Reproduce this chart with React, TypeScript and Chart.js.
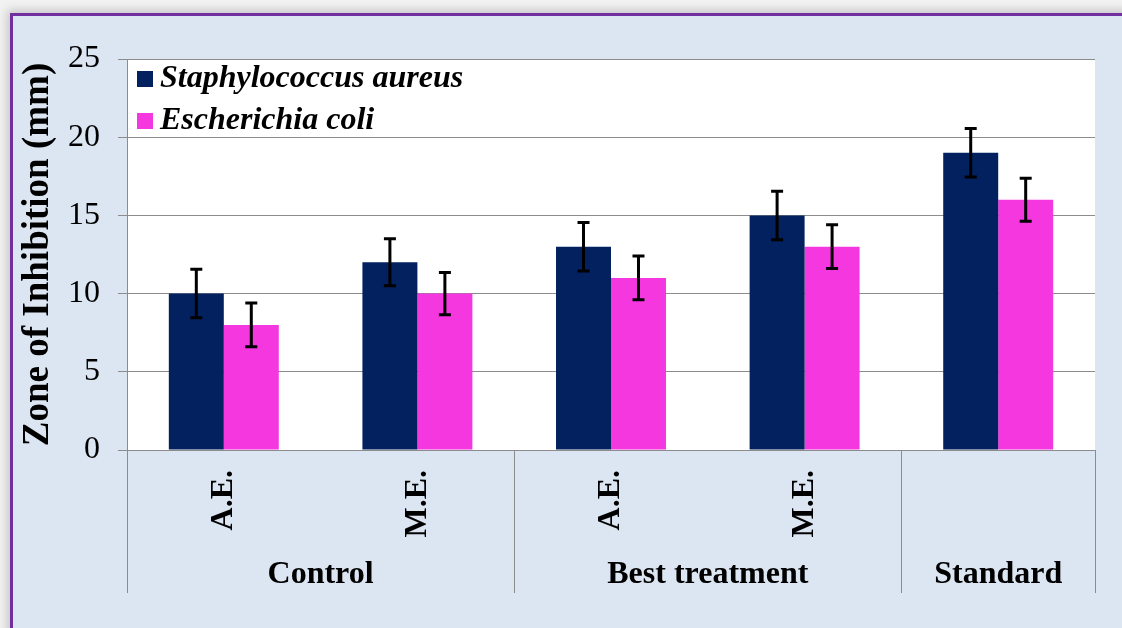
import React, { useEffect, useRef } from 'react';
import { Chart, registerables } from 'chart.js';

Chart.register(...registerables);

// ---- Data ----
const categories = ['A.E.', 'M.E.', 'A.E.', 'M.E.', ''];
const groupLabels = ['Control', 'Best treatment', 'Standard'];
const groupSizes = [2, 2, 1];
const seriesNames = ['Staphylococcus aureus', 'Escherichia coli'];
const saValues = [10, 12, 13, 15, 19];
const ecValues = [8, 10, 11, 13, 16];
const saErrors = [1.55, 1.5, 1.55, 1.55, 1.55];
const ecErrors = [1.4, 1.35, 1.4, 1.4, 1.38];
const yMin = 0;
const yMax = 25;
const yStep = 5;
const yTitle = 'Zone of Inhibition (mm)';

const NAVY = '#03205f';
const PINK = '#f537e0';
const GRID = '#8c8c8c';
const SERIF = "'Liberation Serif', 'Times New Roman', serif";

export default function App() {
  const ref = useRef<HTMLCanvasElement>(null);

  useEffect(() => {
    const canvas = ref.current;
    if (!canvas) return;

    const bgPlugin = {
      id: 'plotBg',
      beforeDraw(chart: any) {
        const { ctx, chartArea: a } = chart;
        ctx.save();
        ctx.fillStyle = '#ffffff';
        ctx.fillRect(a.left, a.top, a.right - a.left, a.bottom - a.top);
        ctx.restore();
      },
    };

    const errPlugin = {
      id: 'errBars',
      afterDatasetsDraw(chart: any) {
        const { ctx } = chart;
        const yScale = chart.scales.y;
        const errs = [saErrors, ecErrors];
        ctx.save();
        ctx.strokeStyle = '#000000';
        ctx.lineWidth = 3;
        chart.data.datasets.forEach((ds: any, di: number) => {
          const meta = chart.getDatasetMeta(di);
          meta.data.forEach((bar: any, i: number) => {
            const v = ds.data[i];
            const e = errs[di][i];
            const yt = yScale.getPixelForValue(v + e);
            const yb = yScale.getPixelForValue(v - e);
            const x = bar.x;
            ctx.beginPath();
            ctx.moveTo(x, yt);
            ctx.lineTo(x, yb);
            ctx.moveTo(x - 6, yt);
            ctx.lineTo(x + 6, yt);
            ctx.moveTo(x - 6, yb);
            ctx.lineTo(x + 6, yb);
            ctx.stroke();
          });
        });
        ctx.restore();
      },
    };

    const groupPlugin = {
      id: 'groups',
      afterDraw(chart: any) {
        const { ctx, chartArea: a } = chart;
        const xs = chart.scales.x;
        const n = categories.length;
        const half = (xs.getPixelForValue(1) - xs.getPixelForValue(0)) / 2;
        const bottomY = 593;
        ctx.save();
        ctx.strokeStyle = GRID;
        ctx.lineWidth = 1;
        // left axis line
        ctx.beginPath();
        ctx.moveTo(Math.round(a.left) + 0.5, a.top);
        ctx.lineTo(Math.round(a.left) + 0.5, bottomY);
        ctx.stroke();
        let idx = 0;
        ctx.fillStyle = '#000000';
        ctx.font = `bold 32px ${SERIF}`;
        ctx.textAlign = 'center';
        ctx.textBaseline = 'middle';
        groupLabels.forEach((g, gi) => {
          const start = idx;
          const end = idx + groupSizes[gi] - 1;
          const x0 = xs.getPixelForValue(start) - half;
          const x1 = xs.getPixelForValue(end) + half;
          ctx.beginPath();
          ctx.moveTo(Math.round(x1) + 0.5, a.bottom);
          ctx.lineTo(Math.round(x1) + 0.5, bottomY);
          ctx.stroke();
          ctx.fillText(g, (x0 + x1) / 2, 575);
          idx = end + 1;
        });
        void n;
        ctx.restore();
      },
    };

    const legendPlugin = {
      id: 'innerLegend',
      afterDraw(chart: any) {
        const { ctx, chartArea: a } = chart;
        ctx.save();
        ctx.font = `italic bold 32px ${SERIF}`;
        ctx.textAlign = 'left';
        ctx.textBaseline = 'middle';
        chart.data.datasets.forEach((ds: any, i: number) => {
          const cy = a.top + 20 + i * 42;
          ctx.fillStyle = ds.backgroundColor;
          ctx.fillRect(a.left + 10, cy - 8, 16, 16);
          ctx.fillStyle = '#000000';
          ctx.fillText(ds.label, a.left + 33, cy);
        });
        ctx.restore();
      },
    };

    const chart = new Chart(canvas, {
      type: 'bar',
      data: {
        labels: categories,
        datasets: [
          { label: seriesNames[0], data: saValues, backgroundColor: NAVY, borderWidth: 0 },
          { label: seriesNames[1], data: ecValues, backgroundColor: PINK, borderWidth: 0 },
        ],
      },
      options: {
        responsive: false,
        animation: false,
        devicePixelRatio: 1,
        layout: { padding: { top: 59, right: 27, left: 0, bottom: 0 } },
        plugins: {
          legend: { display: false },
          tooltip: { enabled: false },
        },
        datasets: {
          bar: { categoryPercentage: 0.568, barPercentage: 1 },
        },
        scales: {
          x: {
            type: 'category',
            grid: { display: false, drawTicks: false },
            border: { display: false },
            ticks: {
              autoSkip: false,
              minRotation: 90,
              maxRotation: 90,
              padding: 20,
              color: '#000000',
              font: { family: SERIF, size: 32, weight: 'bold' },
            },
            afterFit(scale: any) {
              scale.height = 178;
            },
          },
          y: {
            min: yMin,
            max: yMax,
            grid: { color: GRID, lineWidth: 1, tickLength: 9, drawTicks: true },
            border: { display: false },
            ticks: {
              stepSize: yStep,
              padding: 18,
              color: '#000000',
              font: { family: SERIF, size: 32 },
            },
            title: {
              display: true,
              text: yTitle,
              color: '#000000',
              font: { family: SERIF, size: 37, weight: 'bold', lineHeight: 1 },
              padding: { top: 20, bottom: 0 },
            },
            afterFit(scale: any) {
              scale.width = 127;
            },
          },
        },
      },
      plugins: [bgPlugin, errPlugin, groupPlugin, legendPlugin],
    } as any);

    return () => chart.destroy();
  }, []);

  return (
    <div
      style={{
        position: 'fixed',
        left: 0,
        top: 0,
        width: 1122,
        height: 628,
        overflow: 'hidden',
        background: '#f2f2f2',
      }}
    >
      <div
        style={{
          position: 'absolute',
          left: 10,
          top: 13,
          width: 1250,
          height: 750,
          background: '#dce6f2',
          border: '3px solid #7030a0',
          boxShadow: '0 0 9px 3px rgba(0,0,0,0.18)',
        }}
      />
      <canvas
        ref={ref}
        width={1122}
        height={628}
        style={{ position: 'absolute', left: 0, top: 0, width: 1122, height: 628 }}
      />
    </div>
  );
}
